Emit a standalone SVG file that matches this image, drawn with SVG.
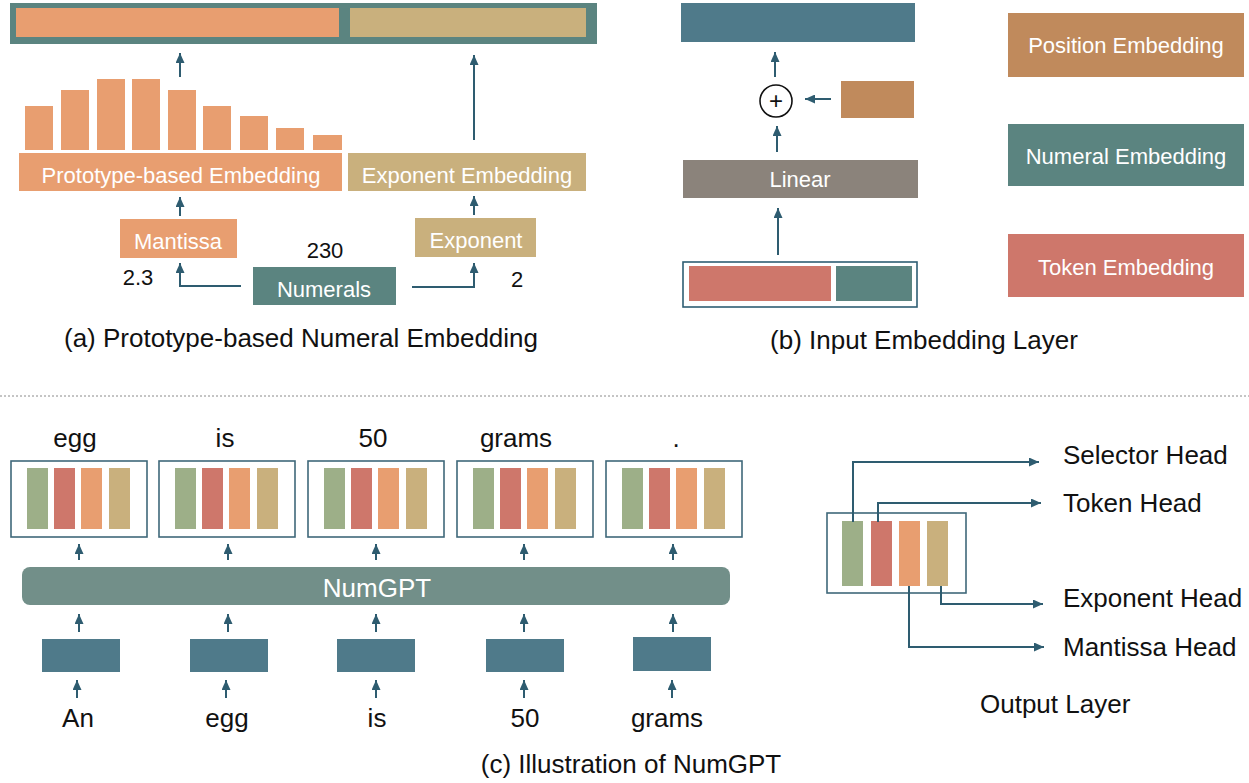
<svg xmlns="http://www.w3.org/2000/svg" width="1249" height="783" viewBox="0 0 1249 783">
<defs>
<marker id="ah" markerUnits="userSpaceOnUse" markerWidth="10" markerHeight="9" refX="10" refY="4.5" orient="auto">
<path d="M0,0 L10,4.5 L0,9 z" fill="#2E5C70"/>
</marker>
<style>
text{font-family:"Liberation Sans",Arial,sans-serif}
.w{fill:#fff;font-size:22px;text-anchor:middle}
.k{fill:#111;font-size:22px;text-anchor:middle}
.cap{fill:#111;font-size:26px;text-anchor:middle}
.wd{fill:#111;font-size:26px;text-anchor:middle}
.hd{fill:#111;font-size:26px}
.c{fill:none;stroke:#2E5C70;stroke-width:2;marker-end:url(#ah)}
.box{fill:#fff;stroke:#3F687A;stroke-width:1.6}
.or{fill:#E89E70}.tn{fill:#C9B07D}.tl{fill:#5B8480}.bl{fill:#4F7A8A}
.rd{fill:#CE776B}.gr{fill:#9DAF88}.br{fill:#C08A5C}
</style>
</defs>
<rect width="1249" height="783" fill="#fff"/>

<!-- (a) Prototype-based Numeral Embedding -->
<g id="a-output">
<rect x="10" y="3" width="587" height="41" class="tl"/>
<rect x="16" y="8" width="323" height="29" class="or"/>
<rect x="350" y="8" width="236" height="29" class="tn"/>
</g>
<g id="a-histogram" class="or">
<rect x="25" y="106" width="28" height="44"/>
<rect x="61" y="90" width="28" height="60"/>
<rect x="97" y="79" width="28" height="71"/>
<rect x="132" y="79" width="28" height="71"/>
<rect x="168" y="90" width="28" height="60"/>
<rect x="203" y="106" width="28" height="44"/>
<rect x="240" y="116" width="28" height="34"/>
<rect x="276" y="128" width="28" height="22"/>
<rect x="313" y="135" width="29" height="15"/>
</g>
<g id="a-proto">
<rect x="19" y="153" width="323" height="38" class="or"/>
<text x="181" y="183" class="w">Prototype-based Embedding</text>
</g>
<g id="a-expemb">
<rect x="348" y="153" width="238" height="38" class="tn"/>
<text x="467" y="183" class="w">Exponent Embedding</text>
</g>
<g id="a-mantissa">
<rect x="120" y="219" width="117" height="39" class="or"/>
<text x="178" y="249" class="w">Mantissa</text>
</g>
<g id="a-exponent">
<rect x="415" y="218" width="121" height="39" class="tn"/>
<text x="476" y="248" class="w">Exponent</text>
</g>
<g id="a-numerals">
<rect x="253" y="267" width="143" height="38" class="tl"/>
<text x="324" y="297" class="w">Numerals</text>
</g>
<g id="a-labels">
<text x="325" y="258" class="k">230</text>
<text x="138" y="285" class="k">2.3</text>
<text x="517" y="287" class="k">2</text>
<text x="301" y="347" class="cap">(a) Prototype-based Numeral Embedding</text>
</g>

<!-- (b) Input Embedding Layer -->
<g id="b-output"><rect x="681" y="3" width="234" height="39" class="bl"/></g>
<g id="b-plus">
<circle cx="776" cy="101" r="16" fill="#fff" stroke="#111" stroke-width="1.6"/>
<text x="776" y="109" fill="#111" font-size="24" text-anchor="middle">+</text>
</g>
<g id="b-pos"><rect x="841" y="81" width="73" height="37" class="br"/></g>
<g id="b-linear">
<rect x="683" y="160" width="235" height="38" fill="#8B837B"/>
<text x="800" y="187" class="w">Linear</text>
</g>
<g id="b-input">
<rect x="683" y="262" width="234" height="45" fill="#fff" stroke="#2F5E73" stroke-width="1.6"/>
<rect x="689" y="266" width="142" height="35" class="rd"/>
<rect x="836" y="266" width="76" height="35" class="tl"/>
</g>
<text x="924" y="349" class="cap">(b) Input Embedding Layer</text>

<!-- legend -->
<g id="legend-position">
<rect x="1008" y="13" width="236" height="64" class="br"/>
<text x="1126" y="53" class="w">Position Embedding</text>
</g>
<g id="legend-numeral">
<rect x="1008" y="124" width="236" height="62" class="tl"/>
<text x="1126" y="164" class="w">Numeral Embedding</text>
</g>
<g id="legend-token">
<rect x="1008" y="234" width="236" height="63" class="rd"/>
<text x="1126" y="275" class="w">Token Embedding</text>
</g>

<line x1="0" y1="396" x2="1249" y2="396" stroke="#8a8a8a" stroke-width="1" stroke-dasharray="2 2"/>

<!-- (c) Illustration of NumGPT -->
<g id="c-outwords">
<text x="75" y="447" class="wd">egg</text>
<text x="225" y="447" class="wd">is</text>
<text x="373" y="447" class="wd">50</text>
<text x="516" y="447" class="wd">grams</text>
<text x="676" y="447" class="wd">.</text>
</g>
<g id="c-out1"><rect x="11" y="461" width="136" height="76" class="box"/><rect x="27" y="468" width="21" height="61" class="gr"/><rect x="54" y="468" width="21" height="61" class="rd"/><rect x="81" y="468" width="21" height="61" class="or"/><rect x="109" y="468" width="21" height="61" class="tn"/></g>
<g id="c-out2"><rect x="159" y="461" width="136" height="76" class="box"/><rect x="175" y="468" width="21" height="61" class="gr"/><rect x="202" y="468" width="21" height="61" class="rd"/><rect x="229" y="468" width="21" height="61" class="or"/><rect x="257" y="468" width="21" height="61" class="tn"/></g>
<g id="c-out3"><rect x="308" y="461" width="136" height="76" class="box"/><rect x="324" y="468" width="21" height="61" class="gr"/><rect x="351" y="468" width="21" height="61" class="rd"/><rect x="378" y="468" width="21" height="61" class="or"/><rect x="406" y="468" width="21" height="61" class="tn"/></g>
<g id="c-out4"><rect x="457" y="461" width="136" height="76" class="box"/><rect x="473" y="468" width="21" height="61" class="gr"/><rect x="500" y="468" width="21" height="61" class="rd"/><rect x="527" y="468" width="21" height="61" class="or"/><rect x="555" y="468" width="21" height="61" class="tn"/></g>
<g id="c-out5"><rect x="606" y="461" width="136" height="76" class="box"/><rect x="622" y="468" width="21" height="61" class="gr"/><rect x="649" y="468" width="21" height="61" class="rd"/><rect x="676" y="468" width="21" height="61" class="or"/><rect x="704" y="468" width="21" height="61" class="tn"/></g>
<g id="c-numgpt">
<rect x="22" y="567" width="708" height="38" rx="8" fill="#728F89"/>
<text x="377" y="597" fill="#fff" font-size="26" text-anchor="middle">NumGPT</text>
</g>
<g id="c-in1"><rect x="42" y="639" width="78" height="33" class="bl"/></g>
<g id="c-in2"><rect x="190" y="639" width="78" height="33" class="bl"/></g>
<g id="c-in3"><rect x="337" y="639" width="78" height="33" class="bl"/></g>
<g id="c-in4"><rect x="486" y="639" width="78" height="33" class="bl"/></g>
<g id="c-in5"><rect x="633" y="637" width="78" height="34" class="bl"/></g>
<g id="c-inwords">
<text x="78" y="727" class="wd">An</text>
<text x="227" y="727" class="wd">egg</text>
<text x="377" y="727" class="wd">is</text>
<text x="525" y="727" class="wd">50</text>
<text x="667" y="727" class="wd">grams</text>
</g>
<text x="631" y="773" class="cap">(c) Illustration of NumGPT</text>

<!-- Output layer -->
<g id="o-layer">
<rect x="827" y="513" width="139" height="80" class="box"/>
<rect x="842" y="521" width="21" height="65" class="gr"/>
<rect x="871" y="521" width="21" height="65" class="rd"/>
<rect x="899" y="521" width="21" height="65" class="or"/>
<rect x="927" y="521" width="21" height="65" class="tn"/>
</g>
<g id="o-labels">
<text x="1063" y="464" class="hd">Selector Head</text>
<text x="1063" y="512" class="hd">Token Head</text>
<text x="1063" y="607" class="hd">Exponent Head</text>
<text x="1063" y="656" class="hd">Mantissa Head</text>
<text x="980" y="713" class="hd">Output Layer</text>
</g>

<!-- connectors -->
<g id="connectors">
<path class="c" d="M180,77 V53"/>
<path class="c" d="M474,140 V55"/>
<path class="c" d="M180,216 V197"/>
<path class="c" d="M474,215 V196"/>
<path class="c" d="M241,286 H180 V263"/>
<path class="c" d="M412,287 H474 V263"/>
<path class="c" d="M775,77 V52"/>
<path class="c" d="M831,99 H805"/>
<path class="c" d="M777,152 V126"/>
<path class="c" d="M778,255 V208"/>
<path class="c" d="M79,560 V544"/>
<path class="c" d="M228,560 V544"/>
<path class="c" d="M376,560 V544"/>
<path class="c" d="M524,560 V544"/>
<path class="c" d="M673,560 V544"/>
<path class="c" d="M79,632 V614"/>
<path class="c" d="M228,632 V614"/>
<path class="c" d="M376,632 V614"/>
<path class="c" d="M524,632 V614"/>
<path class="c" d="M673,632 V614"/>
<path class="c" d="M77,698 V680"/>
<path class="c" d="M226,698 V680"/>
<path class="c" d="M376,698 V680"/>
<path class="c" d="M524,698 V680"/>
<path class="c" d="M672,698 V680"/>
<path class="c" d="M853,522 V462 H1039"/>
<path class="c" d="M878,522 V503 H1041"/>
<path class="c" d="M941,586 V604 H1043"/>
<path class="c" d="M909,586 V647 H1044"/>
</g>
</svg>
